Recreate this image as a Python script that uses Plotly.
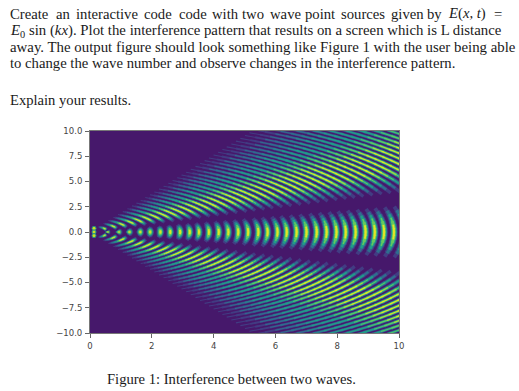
import math
import plotly.graph_objects as go
from plotly.colors import sample_colorscale

# Crest radii: along y=0 up to x=9.84, then along the
# side-lobe crossings at the right and top edges.
crest_r = [0.58, 0.94, 1.28, 1.63, 1.95, 2.28, 2.60, 2.92, 3.23, 3.53, 3.85, 4.17, 4.48,
           4.80, 5.12, 5.45, 5.75, 6.07, 6.37, 6.69, 7.01, 7.34, 7.66, 7.98, 8.28, 8.60,
           8.92, 9.22, 9.52, 9.84, 10.16, 10.47, 10.79, 11.10, 11.42, 11.73, 12.05, 12.37,
           12.68, 13.00, 13.31, 13.63, 13.95, 14.26]
# Brightness of the crests by direction (degrees).
center_edges = [0, 2, 4, 6, 8, 10, 12, 14, 15]
center_peak = [1, .98, .9, .75, .6, .42, .22, .08]
side_edges = [20, 22, 24, 26, 28, 30, 32, 34, 36, 38, 40, 42, 44, 46, 48, 50, 52, 54, 56, 58, 60, 62]
side_peak = [.08, .25, .42, .6, .75, .92, 1, 1, 1, 1, .95, .85, .76, .7, .64, .58, .52, .44, .36, .28, .15]
levels = [.12, .3, .5, .7, .9]
near_x = [0.13, 0.13, 0.13]
near_y = [0.36, 0.0, -0.36]
xticks = [0, 2, 4, 6, 8, 10]
yticks = [10, 7.5, 5, 2.5, 0, -2.5, -5, -7.5, -10]
ylabels = ["10.0", "7.5", "5.0", "2.5", "0.0", "\u22122.5", "\u22125.0", "\u22127.5", "\u221210.0"]
first_line_words = ["Create", "an", "interactive", "code", "code", "with", "two", "wave", "point",
                    "sources", "given", "by", "<i>E</i>(<i>x, t</i>)", "="]
first_line_x = [8.3, 54, 74, 141.7, 176.7, 209.5, 239.5, 267.8, 303.3, 339, 389, 424.7, 445.7, 492.3]
text_lines = [
    "<i>E</i><sub>0</sub> sin (<i>kx</i>). Plot the interference pattern that results on a screen which is L distance",
    "away. The output figure should look something like Figure 1 with the user being able",
    "to change the wave number and observe changes in the interference pattern.",
    "Explain your results.",
]
caption = "Figure 1: Interference between two waves."

L, R, T, B = 90, 399, 131, 333
W, H = 519, 391
px_x = (R - L) / 10
px_y = (B - T) / 20
period = 0.316


def arc_xy(a, b):
    xs, ys = [], []
    for r in crest_r:
        for t in (a - .3, (a + b) / 2, b + .3):
            xs.append(r * math.cos(math.radians(t)))
            ys.append(r * math.sin(math.radians(t)))
        xs.append(None)
        ys.append(None)
    return xs, ys


def thickness(theta, peak, level):
    th = math.radians(theta)
    per = period / math.hypot(math.cos(th) / px_x, math.sin(th) / px_y)
    frac = 1 - 2 / math.pi * math.asin(math.sqrt(level / peak))
    return per * frac


fig = go.Figure()
for level in levels:
    col = sample_colorscale("Viridis", [level + .06])[0]
    for edges, peaks, signs in ((center_edges, center_peak, (1, -1)), (side_edges, side_peak, (1, -1))):
        for i, p in enumerate(peaks):
            if p <= level:
                continue
            a, b = edges[i], edges[i + 1]
            xs, ys = [], []
            for s in signs:
                x, y = arc_xy(a, b)
                xs += x
                ys += [None if v is None else s * v for v in y]
            fig.add_trace(go.Scatter(x=xs, y=ys, mode="lines", hoverinfo="skip", showlegend=False,
                                     line=dict(color=col, width=max(.3, thickness((a + b) / 2, p, level)))))
fig.add_trace(go.Scatter(x=near_x, y=near_y, mode="markers", hoverinfo="skip", showlegend=False,
                         marker=dict(color="#c8e020", size=4, line=dict(color="#21918c", width=1))))


def px_pos(px, py):
    return (px - L) / (R - L), (B - py) / (B - T)


def note(text, px, py, size):
    xp, yp = px_pos(px, py)
    return dict(text=text, x=xp, y=yp, xref="paper", yref="paper", xanchor="left", yanchor="middle",
                showarrow=False, font=dict(family="Liberation Serif", size=size, color="#1a1a1a"))


ann = [note(w, x, 14, 14.7) for w, x in zip(first_line_words, first_line_x)]
for s, yy, fs in zip(text_lines, [30.5, 47, 63.5, 100], [14.8, 14.85, 14.7, 14.6]):
    ann.append(note(s, 8, yy, fs))
ann.append(note(caption, 105, 379, 14.6))

fig.update_layout(
    width=W, height=H, margin=dict(l=L, r=W - R, t=T, b=H - B),
    paper_bgcolor="white", plot_bgcolor="#46186b", annotations=ann,
    font=dict(family="DejaVu Sans", size=8.5, color="#444444"),
)
fig.update_xaxes(range=[0, 10], tickvals=xticks, ticktext=[str(v) for v in xticks], ticks="outside", ticklen=4,
                 ticklabelstandoff=1, tickcolor="#666666", showgrid=False, zeroline=False, showline=True, mirror=True,
                 linecolor="#777777", linewidth=1, tickfont=dict(size=8.5, color="#444444"))
fig.update_yaxes(range=[-10, 10], tickvals=yticks, ticktext=ylabels, ticks="outside", ticklen=4,
                 ticklabelstandoff=1, tickcolor="#666666", showgrid=False, zeroline=False, showline=True, mirror=True,
                 linecolor="#777777", linewidth=1, tickfont=dict(size=8.5, color="#444444"))
fig.write_html("out.html", config={"displayModeBar": False}, post_script="document.body.style.margin='0';")
